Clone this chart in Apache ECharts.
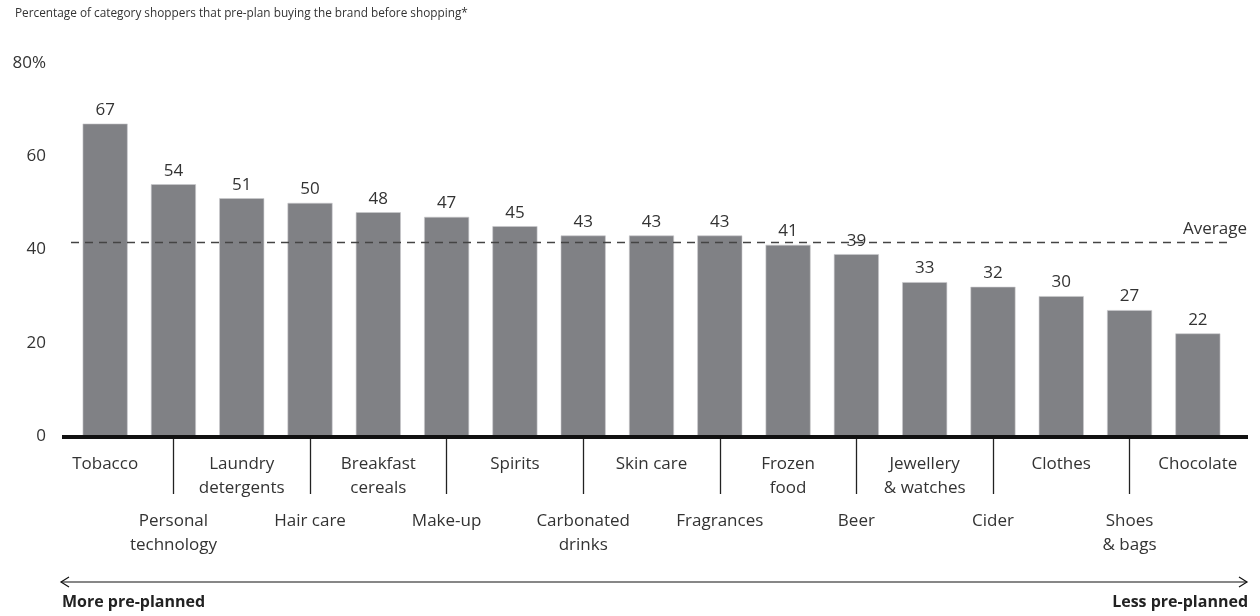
<!DOCTYPE html>
<html>
<head>
<meta charset="utf-8">
<script src="https://cdn.jsdelivr.net/npm/echarts@6/dist/echarts.min.js"></script>
<style>
html,body{margin:0;padding:0;background:#fff;}
#chart{width:1260px;height:616px;}
</style>
</head>
<body>
<div id="chart"></div>
<script>
const categories = ["Tobacco","Personal\ntechnology","Laundry\ndetergents","Hair care","Breakfast\ncereals","Make-up","Spirits","Carbonated\ndrinks","Skin care","Fragrances","Frozen\nfood","Beer","Jewellery\n& watches","Cider","Clothes","Shoes\n& bags","Chocolate"];
const values = [67,54,51,50,48,47,45,43,43,43,41,39,33,32,30,27,22];
const averageValue = 41.5;
const yTicks = [0,20,40,60,80];
const titleText = "Percentage of category shoppers that pre-plan buying the brand before shopping*";
const leftNote = "More pre-planned";
const rightNote = "Less pre-planned";

const FONT = "'Open Sans', 'Noto Sans', sans-serif";
const chart = echarts.init(document.getElementById('chart'), null, {renderer:'canvas'});

const option = {
  animation:false,
  backgroundColor:'#fff',
  textStyle:{fontFamily:FONT},
  title:{
    text:titleText, left:10, top:3,
    textStyle:{fontFamily:FONT,fontSize:11.8,fontWeight:'normal',color:'#333'}
  },
  grid:{left:71, right:28, top:63, bottom:180, containLabel:false},
  xAxis:[{
    type:'category', data:categories, position:'bottom',
    axisLine:{show:false},
    axisTick:{show:true, alignWithLabel:true, length:58,
      interval:function(i){return i%2===1;},
      lineStyle:{color:'#222',width:1.3}},
    axisLabel:{interval:0, margin:16, color:'#333', fontSize:17, lineHeight:24, fontFamily:FONT,
      formatter:function(v,i){return i%2===0 ? v : '';}}
  },{
    type:'category', data:categories, position:'bottom', offset:57,
    axisLine:{show:false}, axisTick:{show:false},
    axisLabel:{interval:0, margin:16, color:'#333', fontSize:17, lineHeight:24, fontFamily:FONT,
      formatter:function(v,i){return i%2===1 ? v : '';}}
  }],
  yAxis:{
    type:'value', min:0, max:80, interval:20,
    splitLine:{show:false}, axisLine:{show:false}, axisTick:{show:false},
    axisLabel:{margin:25, color:'#333', fontSize:17, fontFamily:FONT,
      formatter:function(v){return yTicks.indexOf(v)===yTicks.length-1 ? v+'%' : String(v);}}
  },
  series:[{
    type:'bar', data:values, barWidth:45, xAxisIndex:0,
    itemStyle:{color:'#808185', borderColor:'#c9cacc', borderWidth:0.6},
    label:{show:true, position:'top', distance:5, color:'#333', fontSize:17, fontFamily:FONT},
    markLine:{
      silent:true, symbol:'none', z:10,
      lineStyle:{type:[8,6], color:'#444', width:1.3},
      label:{show:true, position:'insideEndTop', formatter:'Average', color:'#333', fontSize:17, fontFamily:FONT, distance:[-15,5]},
      data:[{yAxis:averageValue}]
    },
    z:2
  }],
  graphic:[
    {type:'rect', left:62, top:435, shape:{width:1186, height:4}, style:{fill:'#111'}, z:5},
    {type:'line', shape:{x1:61, y1:582, x2:1247, y2:582}, style:{stroke:'#111', lineWidth:1.2}},
    {type:'polyline', shape:{points:[[69,577],[61,582],[69,587]]}, style:{stroke:'#111', lineWidth:1.2, fill:null}},
    {type:'polyline', shape:{points:[[1239,577],[1247,582],[1239,587]]}, style:{stroke:'#111', lineWidth:1.2, fill:null}},
    {type:'text', left:62, top:594, style:{text:leftNote, font:"bold 16px "+FONT, fill:'#222'}},
    {type:'text', right:12, top:594, style:{text:rightNote, font:"bold 16px "+FONT, fill:'#222', textAlign:'right'}}
  ]
};
chart.setOption(option);
</script>
</body>
</html>
